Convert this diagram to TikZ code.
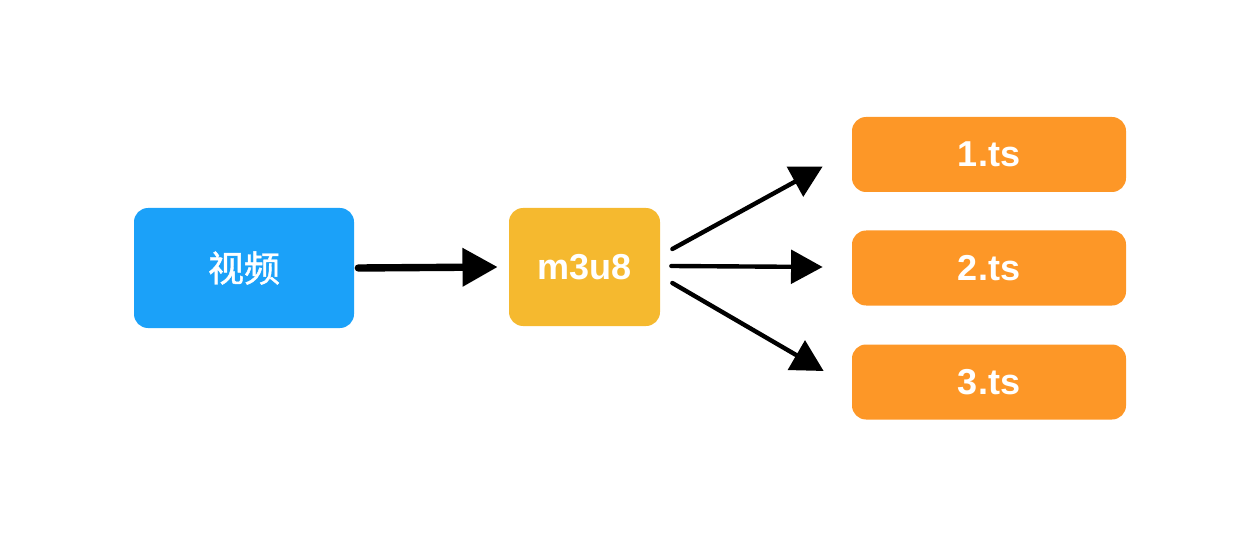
\documentclass[tikz,border=0pt]{standalone}
\usepackage{fontspec}
\setmainfont{Liberation Sans}
\newfontfamily\cjk[FakeBold=1.2]{Noto Sans CJK SC}
\usetikzlibrary{arrows.meta,calc}
\definecolor{vblue}{HTML}{1BA1F9}
\definecolor{myellow}{HTML}{F5B92F}
\definecolor{tsorange}{HTML}{FD9727}
\tikzset{
  box/.style={rounded corners=0.28cm, inner sep=0pt, text=white, font=\fontsize{20.5}{24}\selectfont\bfseries},
  bigarrow/.style={line width=4.2pt, line cap=round, -{Triangle[length=20pt,width=21pt]}},
  smallarrow/.style={line width=2.5pt, line cap=round, -{Triangle[length=18pt,width=19pt]}},
}
\begin{document}
\begin{tikzpicture}[x=0.02cm,y=-0.02cm]
\useasboundingbox (0,0) rectangle (1247,547);
\node[box, fill=vblue, minimum width=220*0.02cm, minimum height=120*0.02cm] (video) at (244,268) {\cjk\mdseries 视频};
\node[box, fill=myellow, minimum width=151*0.02cm, minimum height=118*0.02cm] (m3u8) at (584.5,267) {m3u8};
\node[box, fill=tsorange, minimum width=274*0.02cm, minimum height=75*0.02cm] (t1) at (989,154.5) {1.ts};
\node[box, fill=tsorange, minimum width=274*0.02cm, minimum height=75*0.02cm] (t2) at (989,268) {2.ts};
\node[box, fill=tsorange, minimum width=274*0.02cm, minimum height=75*0.02cm] (t3) at (989,382) {3.ts};
\coordinate (vs) at ($(video.east)+(4,0)$);
\coordinate (ve) at ($(m3u8.west)+(-11,0)$);
\coordinate (s1) at ($(m3u8.east)+(12,-18)$);
\coordinate (s2) at ($(m3u8.east)+(11,-1)$);
\coordinate (s3) at ($(m3u8.east)+(12,16)$);
\coordinate (e1) at ($(t1.west)+(-29,12)$);
\coordinate (e2) at ($(t2.west)+(-29,-1)$);
\coordinate (e3) at ($(t3.west)+(-28,-11)$);
\draw[bigarrow] (vs) -- (ve);
\draw[smallarrow] (s1) -- (e1);
\draw[smallarrow] (s2) -- (e2);
\draw[smallarrow] (s3) -- (e3);
\end{tikzpicture}
\end{document}
